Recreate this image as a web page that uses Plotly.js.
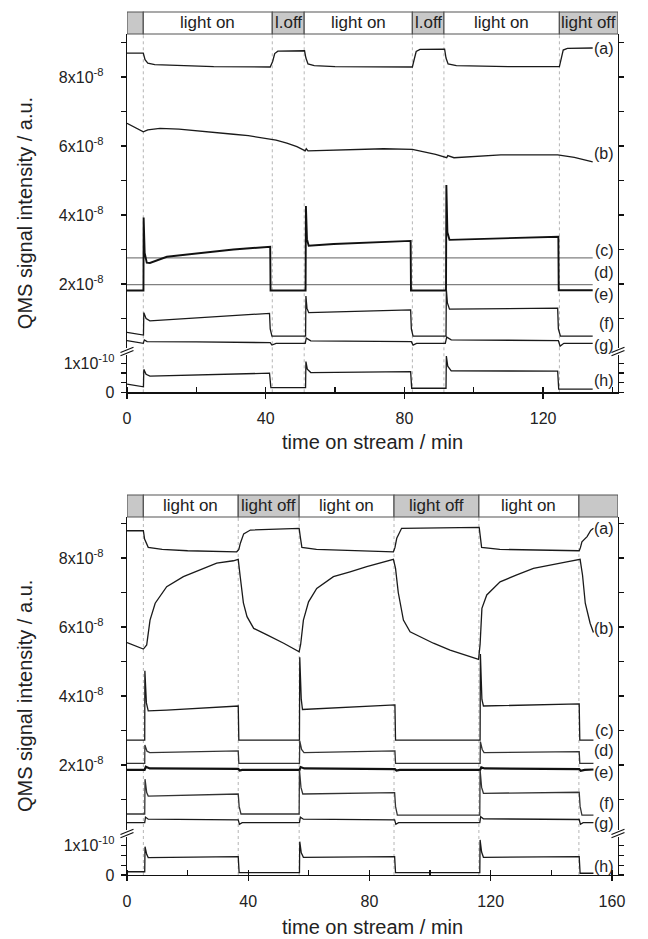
<!DOCTYPE html>
<html>
<head>
<meta charset="utf-8">
<script src="https://cdn.plot.ly/plotly-3.0.1.min.js"></script>
<style>html,body{margin:0;padding:0;background:#fff;}#chart{width:648px;height:939px;}</style>
</head>
<body>
<div id="chart"></div>
<script>
// ---------- DATA : top panel (time in min, upper values in 1e-8, h in 1e-10) ----------
const topA_t = [0, 4.7, 5.2, 6, 8, 15, 25, 41.3, 42.0, 42.6, 43.5, 51.2, 51.6, 52.2, 54, 60, 82.3, 82.8, 83.4, 84.5, 91.6, 92.0, 92.6, 95, 110, 124.7, 125.2, 125.8, 127, 134.3];
const topA_v = [8.69, 8.69, 8.50, 8.40, 8.36, 8.33, 8.30, 8.29, 8.45, 8.68, 8.75, 8.76, 8.55, 8.38, 8.33, 8.30, 8.29, 8.50, 8.74, 8.80, 8.81, 8.55, 8.38, 8.33, 8.30, 8.30, 8.55, 8.78, 8.83, 8.84];
const topB_t = [0, 2, 4.7, 6, 9.5, 15, 21, 30.7, 35, 40.4, 43, 46.1, 49, 51.4, 51.7, 52.2, 59.6, 74, 82.3, 85.6, 89, 92.2, 92.5, 94.3, 107.8, 124.2, 129, 134.3];
const topB_v = [6.66, 6.55, 6.41, 6.47, 6.51, 6.49, 6.44, 6.34, 6.30, 6.22, 6.17, 6.08, 5.98, 5.86, 5.92, 5.86, 5.88, 5.92, 5.90, 5.83, 5.76, 5.66, 5.72, 5.66, 5.74, 5.74, 5.67, 5.54];
const topC_t = [0, 134.3];
const topC_v = [2.76, 2.76];
const topD_t = [0, 134.3];
const topD_v = [1.98, 1.98];
const topE_t = [0, 4.75, 4.8, 5.1, 5.7, 6.6, 11.5, 21.1, 30.7, 41.3, 41.4, 51.5, 51.6, 51.9, 52.4, 59.6, 81.8, 81.9, 92.0, 92.1, 92.4, 93.0, 107.8, 124.4, 124.5, 134.3];
const topE_v = [1.81, 1.81, 3.93, 2.9, 2.62, 2.61, 2.79, 2.89, 3.00, 3.08, 1.81, 1.81, 4.26, 3.3, 3.11, 3.16, 3.25, 1.81, 1.81, 4.87, 3.5, 3.28, 3.32, 3.37, 1.82, 1.82];
const topF_t = [0, 4.75, 4.85, 5.5, 6.6, 21, 41.1, 41.3, 41.8, 51.5, 51.6, 51.9, 52.4, 81.8, 82.0, 82.5, 92.0, 92.1, 92.4, 93.0, 124.2, 124.4, 125.0, 134.3];
const topF_v = [0.60, 0.52, 1.17, 1.0, 0.93, 1.03, 1.15, 0.7, 0.49, 0.49, 1.65, 1.3, 1.17, 1.25, 0.7, 0.49, 0.49, 1.83, 1.45, 1.27, 1.30, 0.7, 0.49, 0.49];
const topG_t = [0, 4.7, 5.0, 5.8, 20, 41.3, 41.8, 43, 51.4, 51.7, 53, 82, 82.5, 83.5, 91.8, 92.2, 93.5, 124.4, 124.9, 126, 134.3];
const topG_v = [0.36, 0.28, 0.38, 0.33, 0.32, 0.30, 0.23, 0.28, 0.28, 0.43, 0.35, 0.33, 0.23, 0.28, 0.28, 0.46, 0.38, 0.36, 0.20, 0.28, 0.28];
const topH_t = [0, 4.75, 4.85, 5.5, 6.6, 20, 41.1, 41.5, 51.5, 51.6, 52.0, 53, 81.8, 82.1, 92.0, 92.1, 92.5, 93.5, 124.2, 124.5, 134.3];
const topH_v = [0.28, 0.19, 0.79, 0.62, 0.56, 0.60, 0.66, 0.16, 0.16, 1.06, 0.80, 0.68, 0.71, 0.14, 0.14, 1.25, 0.9, 0.74, 0.73, 0.11, 0.11];

// ---------- DATA : bottom panel ----------
const botA_t = [0, 5.4, 5.8, 6.5, 7.0, 11.6, 20, 36.2, 36.9, 37.4, 38.5, 40.7, 56.8, 57.2, 57.7, 62.5, 87.9, 88.4, 89.0, 90.6, 116.2, 116.6, 117.0, 123, 149.2, 149.6, 150.1, 151.8, 153.0, 153.9];
const botA_v = [8.79, 8.79, 8.55, 8.38, 8.31, 8.25, 8.21, 8.18, 8.25, 8.43, 8.70, 8.81, 8.86, 8.6, 8.31, 8.25, 8.18, 8.3, 8.57, 8.86, 8.89, 8.6, 8.31, 8.25, 8.21, 8.3, 8.47, 8.62, 8.80, 8.86];
const botB_t = [0, 5.4, 6.5, 7.6, 9.3, 13.1, 18.6, 24.1, 29.6, 35.1, 36.7, 37.3, 38.4, 39.6, 41.8, 46.2, 51.7, 56.8, 57.3, 58.2, 59.9, 62.6, 68.1, 73.6, 79.1, 87.9, 88.6, 89.5, 91.2, 93.4, 101.1, 106.6, 116.0, 116.5, 117.1, 118.7, 123.1, 128.6, 134.1, 145.1, 149.5, 150.3, 151.2, 152.8, 153.9];
const botB_v = [5.55, 5.36, 5.48, 6.20, 6.69, 7.17, 7.46, 7.65, 7.85, 7.92, 7.96, 7.5, 6.7, 6.30, 5.96, 5.77, 5.53, 5.28, 5.5, 6.20, 6.73, 7.12, 7.46, 7.60, 7.75, 7.96, 7.7, 7.0, 6.20, 5.86, 5.53, 5.33, 5.06, 5.5, 6.54, 6.93, 7.31, 7.51, 7.70, 7.89, 7.96, 7.5, 6.69, 6.11, 5.84];
const botC_t = [0, 5.85, 5.9, 6.4, 7.0, 13.1, 36.7, 36.9, 56.9, 57.0, 57.5, 57.9, 88.4, 88.6, 116.5, 116.6, 117.1, 117.6, 149.2, 149.4, 153.9];
const botC_v = [2.72, 2.72, 4.73, 3.8, 3.57, 3.59, 3.71, 2.72, 2.72, 5.12, 3.9, 3.61, 3.74, 2.72, 2.72, 5.22, 3.9, 3.71, 3.77, 2.72, 2.72];
const botD_t = [0, 5.85, 5.9, 6.6, 7.5, 36.7, 36.9, 56.9, 57.0, 57.6, 58.4, 88.4, 88.6, 116.5, 116.6, 117.2, 117.8, 149.2, 149.4, 153.9];
const botD_v = [2.05, 2.05, 2.58, 2.40, 2.36, 2.41, 2.05, 2.05, 2.70, 2.45, 2.36, 2.41, 2.05, 2.05, 2.68, 2.45, 2.36, 2.39, 2.05, 2.05];
const botE_t = [0, 5.8, 6.2, 7.5, 36.7, 37.2, 38, 56.9, 57.3, 58.5, 88.4, 88.9, 90, 116.5, 116.9, 118, 149.2, 149.7, 151, 153.9];
const botE_v = [1.86, 1.86, 1.95, 1.90, 1.89, 1.84, 1.86, 1.86, 1.94, 1.90, 1.88, 1.84, 1.86, 1.86, 1.93, 1.90, 1.88, 1.83, 1.86, 1.87];
const botF_t = [0, 5.85, 5.95, 6.5, 7.0, 36.7, 37.0, 37.6, 56.8, 56.9, 57.4, 58.0, 88.3, 88.6, 89.2, 116.4, 116.5, 117.0, 117.6, 149.2, 149.5, 150.1, 153.9];
const botF_v = [0.58, 0.58, 1.59, 1.2, 1.10, 1.16, 0.8, 0.58, 0.58, 1.86, 1.35, 1.16, 1.20, 0.8, 0.55, 0.55, 1.86, 1.35, 1.18, 1.21, 0.8, 0.55, 0.55];
const botG_t = [0, 5.85, 6.1, 7.0, 36.7, 37.1, 38.0, 56.9, 57.2, 58.2, 88.3, 88.7, 89.6, 116.4, 116.7, 117.6, 149.2, 149.6, 150.5, 153.9];
const botG_v = [0.33, 0.33, 0.49, 0.43, 0.41, 0.28, 0.33, 0.33, 0.49, 0.43, 0.41, 0.28, 0.33, 0.33, 0.50, 0.44, 0.42, 0.28, 0.33, 0.33];
const botH_t = [0, 5.85, 5.95, 6.5, 7.0, 36.7, 37.0, 56.9, 57.0, 57.5, 58.2, 88.3, 88.6, 116.4, 116.5, 117.0, 117.6, 149.2, 149.5, 153.9];
const botH_v = [0.11, 0.11, 0.96, 0.7, 0.59, 0.62, 0.08, 0.08, 1.13, 0.75, 0.60, 0.62, 0.08, 0.08, 1.19, 0.78, 0.60, 0.62, 0.06, 0.06];

// light periods (boundaries in min) and header labels
const topBounds = [0, 4.7, 41.9, 51.1, 82.3, 91.4, 124.7, 141.6];
const topHeader = ["", "light on", "l.off", "light on", "l.off", "light on", "light off"];
const topLit = [false, true, false, true, false, true, false];
const botBounds = [0, 5.4, 36.7, 56.8, 88.1, 116.1, 149.1, 162.0];
const botHeader = ["", "light on", "light off", "light on", "light off", "light on", ""];
const botLit = [false, true, false, true, false, true, false];

const seriesLabels = ["(a)", "(b)", "(c)", "(d)", "(e)", "(f)", "(g)", "(h)"];
const upperTickVals = [2, 4, 6, 8];
const upperTickText = ["2x10<sup>-8</sup>", "4x10<sup>-8</sup>", "6x10<sup>-8</sup>", "8x10<sup>-8</sup>"];
const lowerTickVals = [0, 1];
const lowerTickText = ["0", "1x10<sup>-10</sup>"];
const xTitle = "time on stream / min";
const yTitle = "QMS signal intensity / a.u.";

// ---------- layout geometry (pixels) ----------
const W = 648, H = 939;
const FONT = "Liberation Sans, Arial, Helvetica, sans-serif";
const px = v => v / W;
const py = v => 1 - v / H;
const X0 = 127, X1 = 618;

const panels = [
  {xa: 'x', ya_lo: 'y', ya_hi: 'y2', xrange: [0, 141.6],
   hdrTop: 12, hdrBot: 34, hiBot: 348, loTop: 355, axisY: 392.3,
   hiRange: [8 - (348 - 77) / 34.5, 8 + (77 - 34) / 34.5], loRange: [0, (392.3 - 355) / 29],
   bounds: topBounds, header: topHeader, lit: topLit,
   labelY: [48, 153, 250, 272, 294, 323, 345, 380], xtitleY: 442, breakY: 351.5,
   series: [[topA_t, topA_v], [topB_t, topB_v], [topC_t, topC_v], [topD_t, topD_v], [topE_t, topE_v], [topF_t, topF_v], [topG_t, topG_v], [topH_t, topH_v]]},
  {xa: 'x2', ya_lo: 'y3', ya_hi: 'y4', xrange: [0, 162.0],
   hdrTop: 495, hdrBot: 517, hiBot: 830, loTop: 837, axisY: 875,
   hiRange: [8 - (830 - 558) / 34.5, 8 + (558 - 517) / 34.5], loRange: [0, (875 - 837) / 29.5],
   bounds: botBounds, header: botHeader, lit: botLit,
   labelY: [528, 628, 730, 750, 772, 803, 823, 866], xtitleY: 927, breakY: 833.5,
   series: [[botA_t, botA_v], [botB_t, botB_v], [botC_t, botC_v], [botD_t, botD_v], [botE_t, botE_v], [botF_t, botF_v], [botG_t, botG_v], [botH_t, botH_v]]}
];

const styleTop = [
  {c: '#1a1a1a', w: 1.3}, {c: '#1a1a1a', w: 1.3}, {c: '#808080', w: 1.2}, {c: '#808080', w: 1.2},
  {c: '#111', w: 1.9}, {c: '#1a1a1a', w: 1.3}, {c: '#1a1a1a', w: 1.3}, {c: '#1a1a1a', w: 1.3}];
const styleBot = [
  {c: '#1a1a1a', w: 1.3}, {c: '#1a1a1a', w: 1.3}, {c: '#1a1a1a', w: 1.3}, {c: '#333', w: 1.3},
  {c: '#111', w: 2.2}, {c: '#333', w: 1.3}, {c: '#1a1a1a', w: 1.3}, {c: '#1a1a1a', w: 1.3}];

const traces = [];
const shapes = [];
const annotations = [];
const layout = {
  width: W, height: H, autosize: false,
  margin: {l: 0, r: 0, t: 0, b: 0},
  paper_bgcolor: '#fff', plot_bgcolor: 'rgba(0,0,0,0)',
  showlegend: false,
  font: {family: FONT, size: 16, color: '#222'}
};

const axisCommon = {
  showline: true, linecolor: '#111', linewidth: 1.3, showgrid: false, zeroline: false,
  ticks: 'outside', ticklen: 5, tickwidth: 1.2, tickcolor: '#111',
  tickfont: {family: FONT, size: 16, color: '#222'}, fixedrange: true
};

panels.forEach((p, pi) => {
  const st = pi === 0 ? styleTop : styleBot;
  const xname = p.xa === 'x' ? 'xaxis' : 'xaxis2';
  layout[xname] = Object.assign({}, axisCommon, {
    domain: [px(X0), px(X1)], range: p.xrange, anchor: p.ya_lo,
    tickmode: 'linear', tick0: 0, dtick: 40, ticklabelstandoff: 6,
    minor: {dtick: 20, tick0: 0, ticks: 'inside', ticklen: 5, tickwidth: 1.2, tickcolor: '#111'}
  });
  const loName = 'yaxis' + (p.ya_lo === 'y' ? '' : p.ya_lo.slice(1));
  const hiName = 'yaxis' + p.ya_hi.slice(1);
  layout[loName] = Object.assign({}, axisCommon, {
    domain: [py(p.axisY), py(p.loTop)], range: p.loRange, anchor: p.xa, mirror: 'ticks',
    tickmode: 'array', tickvals: lowerTickVals, ticktext: lowerTickText, ticklabelstandoff: 3,
    minor: {tickmode: 'array', tickvals: [1 / 3, 2 / 3], ticks: 'outside', ticklen: 5, tickwidth: 1.2, tickcolor: '#111'}
  });
  layout[hiName] = Object.assign({}, axisCommon, {
    domain: [py(p.hiBot), py(p.hdrBot)], range: p.hiRange, anchor: p.xa, mirror: 'ticks',
    tickmode: 'array', tickvals: upperTickVals, ticktext: upperTickText, ticklabelstandoff: 14,
    minor: {tickmode: 'linear', tick0: 1, dtick: 2, ticks: 'outside', ticklen: 5, tickwidth: 1.2, tickcolor: '#111'}
  });

  p.bounds.slice(1, -1).forEach(b => {
    shapes.push({type: 'line', xref: p.xa, yref: 'paper', x0: b, x1: b, y0: py(p.axisY), y1: py(p.hdrBot),
      line: {color: '#b5b5b5', width: 1, dash: 'dot'}, layer: 'below'});
  });

  for (let i = 0; i < p.header.length; i++) {
    shapes.push({type: 'rect', xref: p.xa, yref: 'paper', x0: p.bounds[i], x1: p.bounds[i + 1],
      y0: py(p.hdrBot), y1: py(p.hdrTop), fillcolor: p.lit[i] ? '#ffffff' : '#c8c8c8',
      line: {color: '#555', width: 1.2}, layer: 'above'});
    if (p.header[i]) {
      annotations.push({xref: p.xa, yref: 'paper', x: (p.bounds[i] + p.bounds[i + 1]) / 2,
        y: py((p.hdrTop + p.hdrBot) / 2), text: p.header[i], showarrow: false,
        xanchor: 'center', yanchor: 'middle', font: {family: FONT, size: 17, color: '#222'}});
    }
  }

  p.series.forEach((s, si) => {
    traces.push({x: s[0], y: s[1], xaxis: p.xa, yaxis: si === 7 ? p.ya_lo : p.ya_hi,
      type: 'scatter', mode: 'lines', line: {color: st[si].c, width: st[si].w}, hoverinfo: 'skip'});
  });

  seriesLabels.forEach((lab, li) => {
    annotations.push({xref: 'paper', yref: 'paper', x: px(616), y: py(p.labelY[li]), text: lab,
      showarrow: false, xanchor: 'right', yanchor: 'middle', font: {family: FONT, size: 16, color: '#222'}});
  });

  annotations.push({xref: 'paper', yref: 'paper', x: px((X0 + X1) / 2), y: py(p.xtitleY), text: xTitle,
    showarrow: false, xanchor: 'center', yanchor: 'middle', font: {family: FONT, size: 20, color: '#222'}});
  annotations.push({xref: 'paper', yref: 'paper', x: px(25), y: py((p.hdrBot + p.axisY) / 2), text: yTitle,
    textangle: -90, showarrow: false, xanchor: 'center', yanchor: 'middle', font: {family: FONT, size: 20, color: '#222'}});

  [X0, X1].forEach(xb => {
    [-1.6, 1.6].forEach(off => {
      shapes.push({type: 'line', xref: 'paper', yref: 'paper',
        x0: px(xb - 6.5), x1: px(xb + 6.5), y0: py(p.breakY + off + 2.6), y1: py(p.breakY + off - 2.6),
        line: {color: '#111', width: 1.2}});
    });
  });
});

layout.shapes = shapes;
layout.annotations = annotations;

Plotly.newPlot('chart', traces, layout, {staticPlot: true, displayModeBar: false});
</script>
</body>
</html>
